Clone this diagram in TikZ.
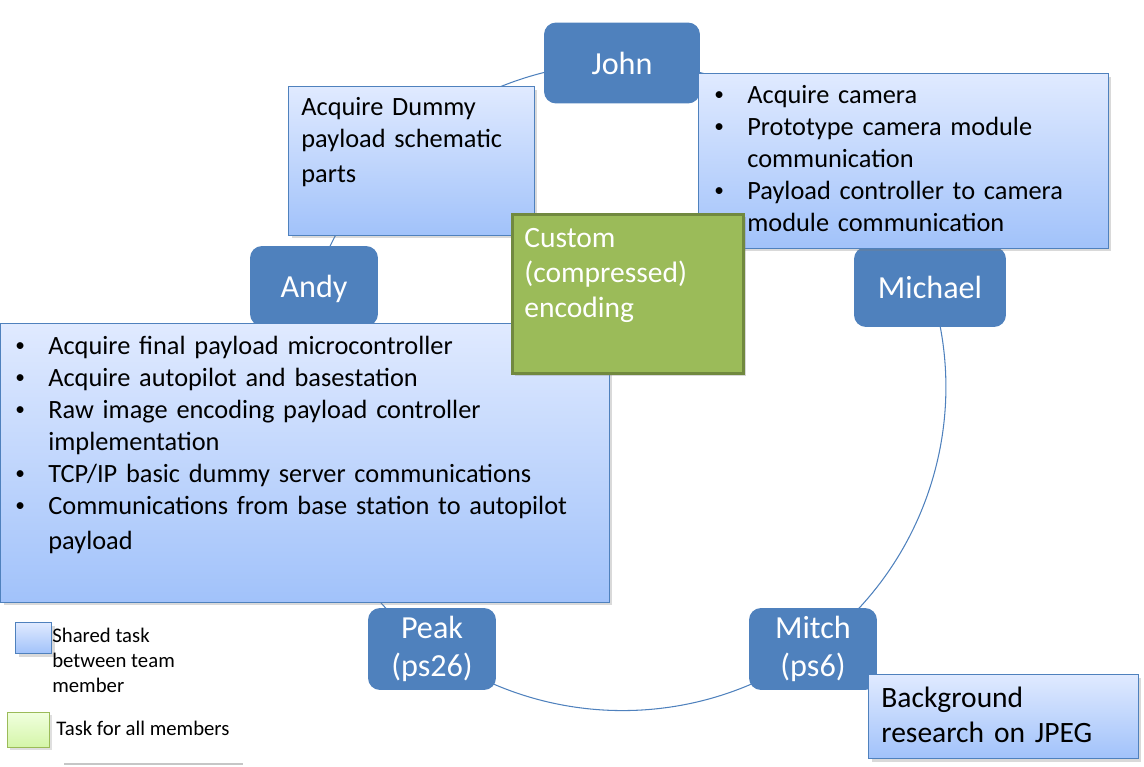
\documentclass[tikz,border=0pt]{standalone}
\usepackage{fontspec}
\setmainfont{Carlito}
\usetikzlibrary{positioning,backgrounds,shadows}
\setlength{\parskip}{0pt}

\definecolor{namefill}{HTML}{4F81BD}
\definecolor{tasktop}{RGB}{224,234,255}
\definecolor{taskbot}{RGB}{161,194,250}
\definecolor{allfill}{HTML}{9BBB59}
\definecolor{allline}{HTML}{71893F}
\definecolor{legtop}{RGB}{240,255,222}
\definecolor{legbot}{RGB}{212,245,168}

% bullet line and its wrapped continuation
\newcommand{\taskitem}[1]{\noindent\makebox[0.66cm][l]{\raisebox{0.1em}{\fontsize{11pt}{11pt}\selectfont\textbullet}}\strut#1\par}
\newcommand{\taskmore}[1]{\noindent\hspace*{0.66cm}\strut#1\par}

\tikzset{
	member/.style={rectangle, rounded corners=0.24cm, fill=namefill, text=white,
		align=center, inner sep=0pt, minimum height=1.62cm,
		font=\fontsize{18.3pt}{21.6pt}\selectfont},
	taskbox/.style={rectangle, draw=namefill, line width=0.6pt, anchor=north west,
		inner sep=0pt, top color=tasktop, bottom color=taskbot,
		drop shadow={shadow xshift=0.06cm, shadow yshift=-0.06cm, opacity=0.3}},
	allbox/.style={rectangle, draw=allline, line width=1.6pt, fill=allfill,
		anchor=north west, inner sep=0pt,
		drop shadow={shadow xshift=0.06cm, shadow yshift=-0.06cm, opacity=0.3}},
	tasktext/.style={anchor=north west, inner sep=0pt, align=left,
		font=\fontsize{15pt}{18.2pt}\selectfont},
	bigtext/.style={tasktext, font=\fontsize{16.8pt}{19.9pt}\selectfont},
	legtext/.style={inner sep=0pt, align=left, font=\fontsize{11.8pt}{14.2pt}\selectfont},
	ring/.style={draw=namefill, line width=0.6pt, bend left=36, looseness=0.94},
}

\begin{document}
\begin{tikzpicture}[x=0.02cm, y=-0.02cm]
	\useasboundingbox (0,0) rectangle (1144,767);
	
	% team members
	\node[member, minimum width=3.12cm] (john) at (622,63) {John};
	\node[taskbox, minimum width=4.92cm, minimum height=2.98cm] (dummy) at (288,86) {};
	\node[tasktext, text width=4.5cm] (dummytxt) at ([xshift=0.26cm, yshift=-0.13cm]dummy.north west)
		{\strut Acquire Dummy\par payload schematic\par\vspace{0.06cm}parts};
	
	\node[member, minimum width=2.56cm, minimum height=1.6cm, text depth=0pt] (andy) at (314,286) {Andy};
	\node[taskbox, minimum width=12.18cm, minimum height=5.58cm] (andytask) at (0,323) {};
	\node[tasktext, text width=11.6cm] (andytxt) at ([xshift=0.3cm, yshift=-0.17cm]andytask.north west) {%
		\taskitem{Acquire final payload microcontroller}%
		\taskitem{Acquire autopilot and basestation}%
		\taskitem{Raw image encoding payload controller}%
		\taskmore{implementation}%
		\taskitem{TCP/IP basic dummy server communications}%
		\taskitem{Communications from base station to autopilot}%
		\vspace{0.06cm}\taskmore{payload}};
	
	\node[member, minimum width=3.04cm, minimum height=1.6cm] (michael) at (930,287) {Michael};
	\node[taskbox, minimum width=8.2cm, minimum height=3.5cm] (camera) at (698,73) {};
	\node[tasktext, text width=7.7cm] (camtxt) at ([xshift=0.32cm, yshift=-0.15cm]camera.north west) {%
		\taskitem{Acquire camera}%
		\taskitem{Prototype camera module}%
		\taskmore{communication}%
		\taskitem{Payload controller to camera}%
		\taskmore{module communication}};
	
	% shared by everyone
	\node[allbox, minimum width=4.62cm, minimum height=3.18cm] (allwork) at (511,213) {};
	\node[bigtext, text=white, text width=4.2cm] (alltxt) at ([xshift=0.26cm, yshift=-0.19cm]allwork.north west)
		{\strut Custom\\(compressed)\\encoding};
	
	\node[member, minimum width=2.56cm, minimum height=1.64cm] (peak) at (432,649) {Peak\\(ps26)};
	\node[member, minimum width=2.56cm, minimum height=1.64cm] (mitch) at (813,649) {Mitch\\(ps6)};
	\node[taskbox, minimum width=5.4cm, minimum height=1.68cm] (jpeg) at (868,674) {};
	\node[bigtext, text width=5cm] (jpegtxt) at ([xshift=0.26cm, yshift=-0.17cm]jpeg.north west)
		{\strut Background\\research on JPEG};
	
	% the cycle
	\begin{scope}[on background layer]
		\draw[ring] (john.center) to (michael.center);
		\draw[ring] (michael.center) to (mitch.center);
		\draw[ring] (mitch.center) to (peak.center);
		\draw[ring] (peak.center) to (andy.center);
		\draw[ring] (andy.center) to (john.center);
	\end{scope}
	
	% legend
	\node[taskbox, minimum width=0.72cm, minimum height=0.62cm] (legshared) at (15,622) {};
	\node[legtext, anchor=north west] (legsharedtxt) at (52,624.5) {\strut Shared task\\between team\\member};
	\node[rectangle, draw=allfill, line width=0.6pt, anchor=north west, inner sep=0pt,
		top color=legtop, bottom color=legbot, minimum width=0.84cm, minimum height=0.7cm,
		drop shadow={shadow xshift=0.05cm, shadow yshift=-0.05cm, opacity=0.25}] (legall) at (7,712) {};
	\node[legtext, anchor=base west] (legalltxt) at (56,735) {Task for all members};
	\draw[gray!45, line width=0.6pt] (64,764) -- (243,764);
\end{tikzpicture}
\end{document}
